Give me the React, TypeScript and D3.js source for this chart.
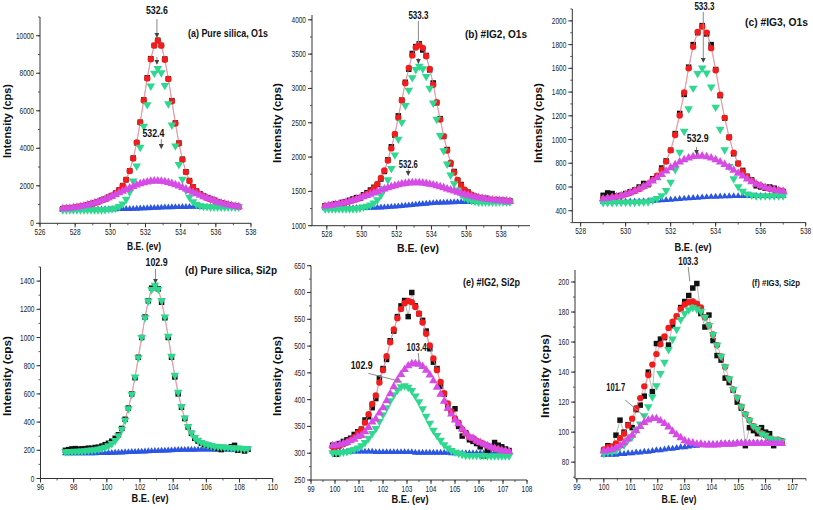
import React from "react";
import * as d3 from "d3";

// ---------- energy grids ----------
const grid = (start: number, step: number, n: number) =>
  d3.range(n).map((i) => +(start + i * step).toFixed(3));

// ---------- (a) Pure silica O1s ----------
const aBE = grid(527.3, 0.2, 51);
const aBg = [740,740,740,741,741,742,742,743,743,744,745,746,747,748,750,752,755,758,762,767,773,780,788,797,806,815,824,832,840,847,853,858,862,866,869,872,874,876,877,878,879,879,880,880,880,881,881,882,882,883,883];
const aC1 = [720,720,720,721,721,722,722,723,723,724,725,726,735,755,779,817,894,1036,1279,1672,2257,3051,4053,5182,6326,7322,8007,8252,8023,7354,6373,5243,4127,3137,2353,1777,1391,1154,1016,943,908,891,866,866,866,867,867,868,868,869,869];
const aC2 = [775,790,808,830,857,890,930,975,1026,1081,1143,1211,1283,1363,1446,1533,1622,1712,1800,1887,1967,2042,2108,2164,2207,2238,2254,2255,2241,2214,2173,2120,2056,1986,1907,1826,1741,1657,1573,1493,1415,1344,1278,1217,1140,1080,1030,985,945,910,880];
const aFit = [775,790,808,830,857,890,930,975,1026,1081,1143,1211,1283,1375,1475,1598,1761,1990,2317,2792,3451,4313,5373,6549,7727,8745,9480,9740,9480,8721,7693,6505,5321,4257,3391,2731,2258,1935,1712,1558,1444,1356,1278,1217,1140,1080,1030,985,945,910,888];
const aRaw = [780,795,800,835,850,900,930,985,1040,1090,1150,1230,1290,1390,1480,1610,1780,2010,2330,2800,3480,4290,5390,6580,7760,8780,9480,9760,9480,8760,7710,6540,5350,4280,3420,2750,2280,1950,1720,1570,1460,1370,1290,1230,1150,1090,1040,990,950,910,890];

// ---------- (b) #IG2 O1s ----------
const bBE = grid(527.9, 0.2, 54);
const bBg = [1255,1255,1255,1255,1256,1256,1256,1257,1257,1258,1258,1259,1260,1261,1262,1264,1266,1268,1271,1274,1278,1282,1287,1292,1297,1302,1307,1312,1317,1321,1325,1329,1332,1335,1337,1339,1341,1342,1343,1344,1344,1345,1345,1345,1345,1346,1346,1346,1346,1346,1347,1347,1347,1347];
const bC1 = [1245,1245,1245,1245,1246,1246,1246,1247,1247,1250,1258,1271,1282,1301,1330,1377,1445,1539,1669,1833,2032,2261,2506,2751,2975,3157,3277,3322,3287,3176,3003,2788,2551,2314,2091,1898,1739,1613,1522,1457,1412,1385,1367,1357,1345,1346,1346,1346,1346,1346,1347,1347,1347,1347];
const bC2 = [1285,1291,1299,1308,1318,1329,1341,1355,1370,1386,1403,1421,1439,1458,1477,1497,1516,1534,1551,1567,1582,1595,1607,1616,1622,1626,1627,1625,1621,1614,1605,1595,1582,1568,1552,1536,1520,1504,1488,1472,1457,1443,1430,1418,1407,1399,1390,1382,1376,1371,1367,1363,1360,1357];
const bFit = [1285,1291,1299,1308,1318,1329,1341,1355,1370,1386,1403,1433,1461,1498,1545,1610,1695,1805,1949,2126,2336,2574,2826,3075,3300,3481,3597,3635,3591,3469,3283,3054,2801,2547,2306,2095,1918,1775,1667,1585,1525,1483,1452,1430,1407,1399,1390,1382,1376,1371,1367,1363,1360,1357];
const bRaw = [1290,1280,1300,1320,1310,1340,1350,1370,1390,1410,1400,1450,1480,1520,1560,1600,1680,1790,1960,2150,2320,2600,2830,3090,3280,3510,3610,3650,3560,3480,3270,3080,2790,2560,2300,2110,1900,1790,1660,1600,1510,1490,1440,1420,1410,1390,1400,1380,1370,1380,1360,1370,1350,1360];

// ---------- (c) #IG3 O1s ----------
const cBE = grid(529.0, 0.2, 41);
const cBg = [476,476,476,477,477,477,478,478,479,480,481,483,485,487,490,493,496,499,502,505,508,510,513,515,517,518,520,521,522,523,523,524,524,524,525,525,525,525,526,526,526];
const cC1 = [470,470,470,471,471,471,472,472,473,474,476,491,503,527,570,640,747,892,1069,1260,1433,1556,1603,1561,1442,1273,1087,914,773,670,603,564,542,532,525,525,525,525,526,526,526];
const cC2 = [500,505,511,518,527,538,551,566,584,604,625,651,678,706,734,762,787,810,830,845,856,860,861,855,845,829,811,790,766,742,716,692,668,645,626,610,596,585,577,570,565];
const cFit = [500,505,511,518,527,538,551,566,584,604,625,659,696,746,814,909,1038,1203,1397,1600,1781,1906,1951,1901,1770,1584,1378,1183,1017,889,796,732,686,653,626,610,596,585,577,570,565];
const cRaw = [530,550,545,525,530,545,560,575,600,630,620,670,690,760,820,910,1050,1220,1380,1610,1800,1900,1960,1890,1800,1590,1370,1180,1020,880,800,740,690,660,610,600,590,600,590,570,560];

// ---------- (d) Pure silica Si2p ----------
const dBE = grid(97.5, 0.2, 56);
const dBg = [178,178,178,178,178,178,178,179,179,179,180,180,181,181,182,183,184,185,186,187,188,189,190,191,192,193,194,195,196,197,198,199,200,201,202,203,203,204,204,204,205,205,205,205,205,204,204,204,203,203,202,202,202,201,201,201];
const dC1 = [190,191,192,193,194,195,197,200,202,204,209,214,222,232,248,270,303,350,413,495,598,720,857,1001,1140,1259,1340,1370,1342,1263,1146,1009,867,732,612,511,430,369,323,291,271,256,246,239,234,229,227,225,222,220,218,217,216,214,213,212];
const dFit = dC1;
const dRaw = [200,205,210,212,208,210,212,215,214,220,222,230,240,250,265,285,310,355,420,500,600,715,860,1000,1145,1260,1350,1365,1345,1250,1140,1000,860,720,600,505,425,365,320,285,265,250,240,235,228,225,215,205,220,215,225,235,200,210,195,208];

// ---------- (e) #IG2 Si2p ----------
const eBE = grid(99.9, 0.15, 50);
const eBg = [303,303,303,303,303,303,303,303,303,303,303,303,302,302,302,302,302,302,302,302,302,302,302,301,301,301,301,301,301,301,301,301,301,300,300,300,300,300,300,300,300,300,300,300,300,300,300,300,300,300];
const eC1 = [301,301,301,302,303,305,307,310,314,320,328,337,346,359,372,385,398,409,418,424,426,423,417,407,396,383,369,356,343,333,324,316,310,305,302,300,298,296,296,296,296,296,296,295,295,295,295,295,295,295];
const eC2 = [314,315,316,318,320,323,326,331,333,340,348,358,364,375,385,398,411,424,436,447,456,463,467,467,466,462,455,446,435,423,410,397,384,373,362,355,345,337,330,328,323,320,317,314,311,309,307,305,304,303];
const eFit = [312,313,314,317,320,325,330,338,344,357,373,392,408,432,455,481,507,531,552,569,580,584,582,573,561,544,523,501,477,455,433,412,393,378,365,357,345,337,330,328,323,320,317,314,311,309,307,305,304,303];
const eRaw = [315,298,318,322,325,328,335,340,345,362,368,385,402,440,458,475,510,528,555,575,585,555,600,575,560,548,528,495,470,458,425,410,385,375,383,350,332,338,325,322,318,312,295,305,310,320,315,312,308,305];

// ---------- (f) #IG3 Si2p ----------
const fBE = grid(100.0, 0.15, 45);
const fBg = [85,85,85,85,85.5,85.5,86,86,86.5,86.5,87,87,87.5,88,88,88.5,89,89,89.5,90,90,90.5,91,91,91.5,91.5,92,92,92,92.5,92.5,92.5,92.5,93,93,93,93,93,93,93,93,93,93,93,93];
const fC1 = [86,87,87,88,90.5,91.5,95,97,101.5,105.5,111,117,123.5,131,139,146.5,155,162,168.5,175,179,181.5,183,182,180.5,176.5,171,165,158,150.5,143.5,135.5,128.5,123,117,112,108,104,102,99,98,96,95,95,94];
const fC2 = [87.5,88,88.5,89.5,91,93,95.5,98,100.9,103.7,106.5,108,109,109,107.5,105.7,103.4,100.5,98.2,96.3,94.3,93.3,92.8,92,92.1,91.5,91.5,91.5,91.5,92,92,92,92,92.5,92.5,92.5,92.5,92.5,92.5,92.5,92.5,92.5,92.5,92.5,92.5];
const fFit = [88.5,90,90.5,92.5,96,99,104.5,109,116,122.7,130.5,138,145,152,158.5,163.7,169.4,173.5,177.2,182,185,186.5,187,185.5,183,176.5,171,165,158,150.5,143.5,135.5,128.5,123,117,112,108,104,102,99,98,96,95,95,94];
const fRaw = [88,91,90,98,108,100,105,103,115,118,124,140,127,159,162,163,158,171,177,183,187,191,196,199,179,170,178,161,151,148,136,133,128,120,116,91,103,101,99,103,100,99,91,95,94];

// ---------- tick values ----------
const aXTicks = [526, 528, 530, 532, 534, 536, 538];
const aYTicks = [0, 2000, 4000, 6000, 8000, 10000];
const bXTicks = [528, 530, 532, 534, 536, 538];
const bYTicks = [1000, 1500, 2000, 2500, 3000, 3500, 4000];
const cXTicks = [528, 530, 532, 534, 536, 538];
const cYTicks = [400, 600, 800, 1000, 1200, 1400, 1600, 1800, 2000];
const dXTicks = [96, 98, 100, 102, 104, 106, 108, 110];
const dYTicks = [0, 200, 400, 600, 800, 1000, 1200, 1400];
const eXTicks = [99, 100, 101, 102, 103, 104, 105, 106, 107, 108];
const eYTicks = [250, 300, 350, 400, 450, 500, 550, 600, 650];
const fXTicks = [99, 100, 101, 102, 103, 104, 105, 106, 107];
const fYTicks = [80, 100, 120, 140, 160, 180, 200];

// ---------- styling ----------
const SANS = "'Liberation Sans',Arial,Helvetica,sans-serif";
const COL = { raw: "#111111", fit: "#f21c1c", c1: "#2ed88f", c2: "#d64be6", bg: "#2b55e3", axis: "#333333", note: "#8a8a8a" };

type Note = { text: string; tx: number; ty: number; w?: number; line?: [number, number, number, number]; arrow?: boolean };
type Cfg = {
  id: string;
  xr: [number, number]; yr: [number, number];
  xd: [number, number]; yd: [number, number];
  xTicks: number[]; xMinor: number; yTicks: number[]; yMinor: number;
  be: number[]; raw: number[]; fit: number[]; c1: number[]; c2?: number[]; bg: number[];
  fitMarkers: boolean;
  label: string; labelPos: [number, number]; labelW: number; labelSize: number;
  yTitle: [number, number]; yTitleW: number;
  xTitle: [number, number]; xTitleW: number;
  notes: Note[];
};

const panels: Cfg[] = [
  {
    id: "a", xr: [40, 251], yr: [223.3, 17], xd: [526, 538], yd: [0, 11000],
    xTicks: aXTicks, xMinor: 1, yTicks: aYTicks, yMinor: 1000,
    be: aBE, raw: aRaw, fit: aFit, c1: aC1, c2: aC2, bg: aBg, fitMarkers: true,
    label: "(a) Pure silica, O1s", labelPos: [188, 37], labelW: 80, labelSize: 11,
    yTitle: [10.5, 121], yTitleW: 74, xTitle: [144, 250], xTitleW: 34,
    notes: [
      { text: "532.6", tx: 532.65, ty: 11160, w: 22, line: [532.65, 10890, 532.65, 9934], arrow: true },
      { text: "", tx: 0, ty: 0, line: [532.65, 8860, 532.65, 8494], arrow: true },
      { text: "532.4", tx: 532.45, ty: 4600, w: 22, line: [532.9, 4490, 532.9, 4000], arrow: true },
    ],
  },
  {
    id: "b", xr: [312, 530], yr: [225.7, 15], xd: [527.15, 539.65], yd: [1000, 4070],
    xTicks: bXTicks, xMinor: 1, yTicks: bYTicks, yMinor: 250,
    be: bBE, raw: bRaw, fit: bFit, c1: bC1, c2: bC2, bg: bBg, fitMarkers: true,
    label: "(b) #IG2, O1s", labelPos: [465, 38], labelW: 62, labelSize: 11,
    yTitle: [280.5, 123], yTitleW: 80, xTitle: [418, 252], xTitleW: 42,
    notes: [
      { text: "533.3", tx: 533.25, ty: 4012, w: 20, line: [533.25, 3983, 533.25, 3662], arrow: false },
      { text: "", tx: 0, ty: 0, line: [533.25, 3443, 533.25, 3370], arrow: true },
      { text: "532.6", tx: 532.67, ty: 1841, w: 19, line: [532.67, 1826, 532.67, 1736], arrow: true },
    ],
  },
  {
    id: "c", xr: [572.3, 805.7], yr: [222.6, 9], xd: [527.63, 538], yd: [300, 2100],
    xTicks: cXTicks, xMinor: 1, yTicks: cYTicks, yMinor: 100,
    be: cBE, raw: cRaw, fit: cFit, c1: cC1, c2: cC2, bg: cBg, fitMarkers: true,
    label: "(c) #IG3, O1s", labelPos: [745, 26], labelW: 63, labelSize: 10.5,
    yTitle: [541.5, 123], yTitleW: 80, xTitle: [693, 250.5], xTitleW: 37,
    notes: [
      { text: "533.3", tx: 533.5, ty: 2091, w: 20, line: [533.45, 2075, 533.45, 1654], arrow: true },
      { text: "532.9", tx: 533.2, ty: 980, w: 22, line: [533.15, 937, 533.15, 878], arrow: true },
    ],
  },
  {
    id: "d", xr: [40.5, 272.7], yr: [478.5, 267], xd: [96, 110], yd: [0, 1500],
    xTicks: dXTicks, xMinor: 1, yTicks: dYTicks, yMinor: 100,
    be: dBE, raw: dRaw, fit: dFit, c1: dC1, bg: dBg, fitMarkers: false,
    label: "(d) Pure silica, Si2p", labelPos: [185, 274], labelW: 92, labelSize: 11,
    yTitle: [10.5, 376], yTitleW: 80, xTitle: [150, 502], xTitleW: 37,
    notes: [
      { text: "102.9", tx: 103.0, ty: 1507, w: 22, line: [102.93, 1486, 102.93, 1387], arrow: true },
    ],
  },
  {
    id: "e", xr: [311, 527], yr: [480, 265.7], xd: [99, 108], yd: [250, 650],
    xTicks: eXTicks, xMinor: 0.5, yTicks: eYTicks, yMinor: 25,
    be: eBE, raw: eRaw, fit: eFit, c1: eC1, c2: eC2, bg: eBg, fitMarkers: true,
    label: "(e) #IG2, Si2p", labelPos: [463, 286], labelW: 57, labelSize: 10.5,
    yTitle: [281, 376], yTitleW: 80, xTitle: [410, 503], xTitleW: 37,
    notes: [
      { text: "103.4", tx: 103.4, ty: 491, w: 20, line: [103.47, 487, 103.51, 468], arrow: false },
      { text: "102.9", tx: 101.11, ty: 457, w: 22, line: [101.39, 449, 102.78, 433.5], arrow: false },
    ],
  },
  {
    id: "f", xr: [575, 806], yr: [478.7, 270], xd: [98.93, 107.5], yd: [69, 208],
    xTicks: fXTicks, xMinor: 0.5, yTicks: fYTicks, yMinor: 10,
    be: fBE, raw: fRaw, fit: fFit, c1: fC1, c2: fC2, bg: fBg, fitMarkers: true,
    label: "(f) #IG3, Si2p", labelPos: [752, 286], labelW: 48, labelSize: 9.5,
    yTitle: [549, 376], yTitleW: 84, xTitle: [679, 503], xTitleW: 35,
    notes: [
      { text: "103.3", tx: 103.13, ty: 211.3, w: 20, line: [103.13, 210, 103.19, 200.4], arrow: false },
      { text: "101.7", tx: 100.44, ty: 127.4, w: 19, line: [100.79, 121.4, 101.53, 110.3], arrow: false },
    ],
  },
];

const symSquare = d3.symbol().type(d3.symbolSquare).size(30)() as string;
const symCircle = d3.symbol().type(d3.symbolCircle).size(32)() as string;
const symTri = d3.symbol().type(d3.symbolTriangle).size(32)() as string;
const symTriS = d3.symbol().type(d3.symbolTriangle).size(20)() as string;

const TICK_SX = 0.74;

function Panel({ p }: { p: Cfg }) {
  const x = d3.scaleLinear().domain(p.xd).range(p.xr);
  const y = d3.scaleLinear().domain(p.yd).range(p.yr);
  const bottom = p.yr[0];
  const left = p.xr[0];
  const mk = (vals: number[]) =>
    d3.line<number>().x((_, i) => x(p.be[i])).y((v) => y(v))(vals) as string;

  const xMinor = d3.range(Math.ceil(p.xd[0] / p.xMinor) * p.xMinor, p.xd[1] + 1e-6, p.xMinor);
  const yMinor = d3.range(Math.ceil(p.yd[0] / p.yMinor) * p.yMinor, p.yd[1] + 1e-6, p.yMinor);

  const markers = (vals: number[], path: string, color: string, rot = 0, key = "") =>
    vals.map((v, i) => (
      <path
        key={key + i}
        d={path}
        fill={color}
        transform={`translate(${x(p.be[i]).toFixed(2)},${y(v).toFixed(2)})${rot ? ` rotate(${rot})` : ""}`}
      />
    ));

  return (
    <g>
      {/* axes */}
      <line x1={left} x2={left} y1={bottom} y2={p.yr[1]} stroke={COL.axis} strokeWidth={1} />
      <line x1={left} x2={p.xr[1]} y1={bottom} y2={bottom} stroke={COL.axis} strokeWidth={1} />
      {xMinor.map((t, i) => (
        <line key={"xm" + i} x1={x(t)} x2={x(t)} y1={bottom} y2={bottom + 2} stroke={COL.axis} strokeWidth={0.8} />
      ))}
      {yMinor.map((t, i) => (
        <line key={"ym" + i} x1={left - 2} x2={left} y1={y(t)} y2={y(t)} stroke={COL.axis} strokeWidth={0.8} />
      ))}
      {p.xTicks.map((t) => (
        <g key={"xt" + t}>
          <line x1={x(t)} x2={x(t)} y1={bottom} y2={bottom + 4} stroke={COL.axis} strokeWidth={1} />
          <text
            transform={`translate(${x(t)},${bottom + 11.5}) scale(${TICK_SX},1)`}
            textAnchor="middle" fontSize={8.8} fontFamily={SANS} fill="#222"
          >
            {t}
          </text>
        </g>
      ))}
      {p.yTicks.map((t) => (
        <g key={"yt" + t}>
          <line x1={left - 4} x2={left} y1={y(t)} y2={y(t)} stroke={COL.axis} strokeWidth={1} />
          <text
            transform={`translate(${left - 6},${y(t) + 3}) scale(${TICK_SX},1)`}
            textAnchor="end" fontSize={8.8} fontFamily={SANS} fill="#222"
          >
            {t}
          </text>
        </g>
      ))}
      {/* series */}
      {markers(p.bg, symTriS, COL.bg, 0, "bg")}
      <path d={mk(p.raw)} fill="none" stroke="#9a9a9a" strokeWidth={0.7} />
      {markers(p.raw, symSquare, COL.raw, 0, "raw")}
      <path d={mk(p.fit)} fill="none" stroke="#ff8aa0" strokeWidth={0.8} />
      {p.fitMarkers && markers(p.fit, symCircle, COL.fit, 0, "fit")}
      {markers(p.c1, symTri, COL.c1, 180, "c1")}
      {p.c2 && markers(p.c2, symTri, COL.c2, 0, "c2")}
      {/* annotations */}
      {p.notes.map((n, i) => (
        <g key={"n" + i}>
          {n.line && (
            <line
              x1={x(n.line[0])} y1={y(n.line[1])} x2={x(n.line[2])} y2={y(n.line[3])}
              stroke={COL.note} strokeWidth={1}
              markerEnd={n.arrow ? "url(#arr)" : undefined}
            />
          )}
          {n.text && (
            <text
              x={x(n.tx) - (n.w || 20) / 2} y={y(n.ty)}
              textLength={n.w} lengthAdjust="spacingAndGlyphs"
              fontSize={11.5} fontWeight="bold" fontFamily={SANS} fill="#111"
            >
              {n.text}
            </text>
          )}
        </g>
      ))}
      <text
        x={p.labelPos[0]} y={p.labelPos[1]}
        textLength={p.labelW} lengthAdjust="spacingAndGlyphs"
        fontSize={p.labelSize} fontWeight="bold" fontFamily={SANS} fill="#111"
      >
        {p.label}
      </text>
      <text
        transform={`translate(${p.yTitle[0]},${p.yTitle[1] + p.yTitleW / 2}) rotate(-90)`}
        textLength={p.yTitleW} lengthAdjust="spacingAndGlyphs"
        fontSize={11.5} fontWeight="bold" fontFamily={SANS} fill="#111"
      >
        Intensity (cps)
      </text>
      <text
        x={p.xTitle[0] - p.xTitleW / 2} y={p.xTitle[1]}
        textLength={p.xTitleW} lengthAdjust="spacingAndGlyphs"
        fontSize={10.5} fontWeight="bold" fontFamily={SANS} fill="#111"
      >
        B.E. (ev)
      </text>
    </g>
  );
}

export default function App() {
  return (
    <svg
      width={813}
      height={510}
      viewBox="0 0 813 510"
      style={{ position: "absolute", left: 0, top: 0, background: "#fff" }}
    >
      <defs>
        <marker id="arr" viewBox="0 0 6 6" refX={5} refY={3} markerWidth={5} markerHeight={5} orient="auto">
          <path d="M0,0 L6,3 L0,6 z" fill="#444" />
        </marker>
      </defs>
      <rect x={0} y={0} width={813} height={510} fill="#fff" />
      {panels.map((p) => (
        <Panel key={p.id} p={p} />
      ))}
    </svg>
  );
}
